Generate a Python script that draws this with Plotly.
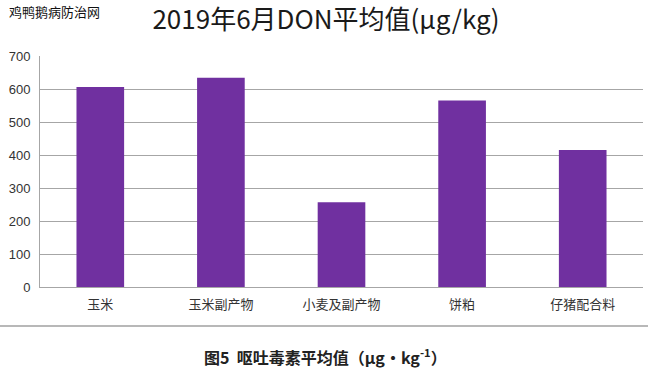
import plotly.graph_objects as go

categories = ["玉米", "玉米副产物", "小麦及副产物", "饼粕", "仔猪配合料"]
values = [606, 634, 257, 565, 415]
y_ticks = [0, 100, 200, 300, 400, 500, 600, 700]

title_text = "2019年6月DON平均值(μg/kg)"
caption_text = "图5  呕吐毒素平均值（μg•kg<sup>-1</sup>）"
watermark_text = "鸡鸭鹅病防治网"

CJK = "Noto Sans CJK SC, Noto Sans, sans-serif"

fig = go.Figure(
    go.Bar(
        x=categories,
        y=values,
        marker=dict(color="#7030A0", line=dict(width=0)),
        width=0.395,
    )
)

fig.update_layout(
    width=648,
    height=368,
    margin=dict(l=40, r=5, t=56, b=81),
    paper_bgcolor="white",
    plot_bgcolor="white",
    showlegend=False,
    title=dict(
        text=title_text,
        x=0.503,
        xref="container",
        xanchor="center",
        y=1 - 20 / 368,
        yref="container",
        yanchor="middle",
        font=dict(family=CJK, size=26, color="#1a1a1a"),
    ),
    font=dict(family=CJK, color="#333333"),
)

fig.update_yaxes(
    range=[0, 700],
    tickvals=y_ticks,
    ticktext=[str(v) for v in y_ticks],
    showgrid=True,
    gridcolor="#a6a6a6",
    gridwidth=1,
    showline=True,
    linecolor="#a6a6a6",
    linewidth=1,
    zeroline=False,
    ticks="",
    ticklabelstandoff=6,
    tickfont=dict(family="Liberation Sans, Arial, sans-serif", size=13, color="#333333"),
    fixedrange=True,
)

fig.update_xaxes(
    showline=True,
    linecolor="#a6a6a6",
    linewidth=1,
    showgrid=False,
    ticks="",
    ticklabelstandoff=5,
    tickfont=dict(family=CJK, size=13, color="#333333"),
    fixedrange=True,
)

# separator line under the chart
fig.add_shape(
    type="line",
    xref="paper",
    yref="paper",
    x0=-40 / 603,
    x1=608 / 603,
    y0=(287 - 326) / 231,
    y1=(287 - 326) / 231,
    line=dict(color="#b8b8b8", width=2),
)

fig.add_annotation(
    text=caption_text,
    xref="paper",
    yref="paper",
    x=(325 - 40) / 603,
    y=(287 - 356.5) / 231,
    xanchor="center",
    yanchor="middle",
    showarrow=False,
    font=dict(family=CJK, size=16, color="#222222", weight="bold"),
)

fig.add_annotation(
    text=watermark_text,
    xref="paper",
    yref="paper",
    x=(7 - 40) / 603,
    y=(287 - 11) / 231,
    xanchor="left",
    yanchor="middle",
    showarrow=False,
    font=dict(family=CJK, size=13, color="#111111"),
)

fig.write_html(
    "out.html",
    config={"displayModeBar": False, "staticPlot": True},
    post_script="document.body.style.margin='0';document.body.style.overflow='hidden';",
)
